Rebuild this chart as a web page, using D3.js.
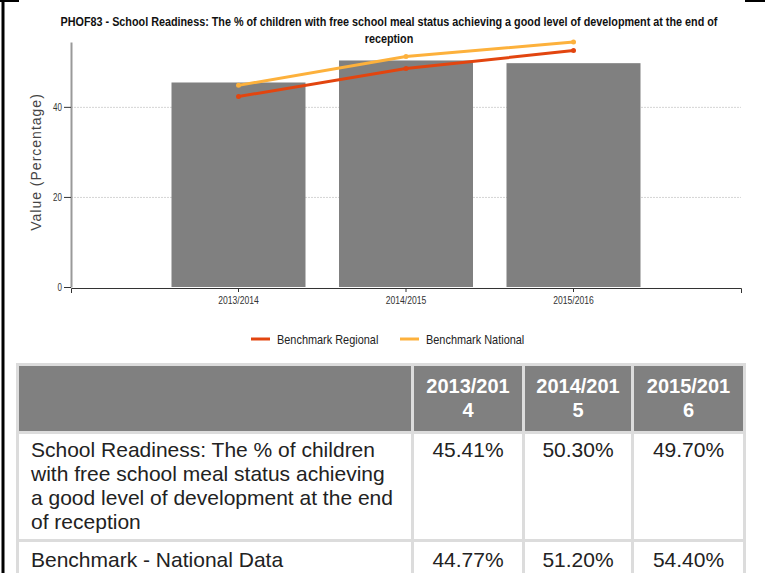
<!DOCTYPE html>
<html>
<head>
<meta charset="utf-8">
<script src="https://cdn.jsdelivr.net/npm/d3@7"></script>
<style>
  body { margin: 0; background: #fff; width: 765px; height: 573px; overflow: hidden; position: relative; }
  svg { position: absolute; left: 0; top: 0; }
  #tbl { position: absolute; left: 16px; top: 363px; }
  table { border-collapse: collapse; table-layout: fixed; width: 727px; font-family: "Liberation Sans", Arial, sans-serif; font-size: 21px; color: #222; }
  td, th { border: 3px solid #dcdcdc; }
  th { background: #808080; color: #fff; font-weight: bold; font-size: 20px; text-align: center; padding: 8px 2px 9px 2px; line-height: 24px; }
  th div { width: 88px; margin: 0 auto; word-break: break-all; }
  td { padding: 4px 12px 5px 12px; line-height: 24px; vertical-align: top; }
  tr.r1 td { padding-top: 6px; padding-bottom: 30px; }
  td.v { text-align: center; padding-left: 2px; padding-right: 2px; }
</style>
</head>
<body>
<script>
// DATA
var years = ['2013/2014', '2014/2015', '2015/2016'];
var indicator = [45.41, 50.30, 49.70];
var regional = [42.3, 48.5, 52.5];
var national = [44.77, 51.20, 54.40];
var yTicks = [0, 20, 40];
var titleLines = ['PHOF83 - School Readiness: The % of children with free school meal status achieving a good level of development at the end of', 'reception'];
var rowLabels = ['School Readiness: The % of children with free school meal status achieving a good level of development at the end of reception', 'Benchmark - National Data'];

// SETTINGS
var settings = {
   left: 71, right: 741, top: 42, bottom: 287,
   colors: { bar: '#808080', regional: '#E2450F', national: '#FDB13C' },
   font: '"Liberation Sans", Arial, sans-serif'
};

// SQUEEZE TEXT SIDEWAYS (NO NARROW FONT INSTALLED)
function narrow(sel, f) {
   sel.each(function () {
      var t = d3.select(this);
      var x = +t.attr('x') || 0, y = +t.attr('y') || 0;
      t.attr('x', 0).attr('y', 0).attr('transform', 'translate(' + x + ',' + y + ') scale(' + f + ',1)');
   });
}

var svg = d3.select('body').append('svg').attr('width', 765).attr('height', 573);

// PAGE FRAME BITS
svg.append('line').attr('x1', 3).attr('x2', 3).attr('y1', 0).attr('y2', 573).attr('stroke', '#000').attr('stroke-width', 3);
svg.append('line').attr('x1', 0).attr('x2', 19).attr('y1', 1).attr('y2', 1).attr('stroke', '#000').attr('stroke-width', 2);
svg.append('line').attr('x1', 745).attr('x2', 765).attr('y1', 1).attr('y2', 1).attr('stroke', '#000').attr('stroke-width', 2);

// TITLE
var title = svg.selectAll('.title').data(titleLines).enter().append('text')
   .attr('x', 389).attr('y', (d, i) => 26 + i * 17)
   .attr('text-anchor', 'middle')
   .style('font-family', settings.font).style('font-weight', 'bold').style('font-size', '13px')
   .attr('fill', '#111')
   .text(d => d);
var titleFactor = 658 / title.node().getComputedTextLength();
narrow(title, titleFactor);

// SCALES
var xScale = d3.scaleBand().domain(years).range([settings.left, settings.right]).paddingInner(0.2).paddingOuter(0.6);
var yScale = d3.scaleLinear().domain([0, d3.max(national.concat(regional, indicator))]).range([settings.bottom, settings.top]);

// GRIDLINES
svg.selectAll('.grid').data(yTicks.slice(1)).enter().append('line')
   .attr('x1', settings.left).attr('x2', settings.right)
   .attr('y1', d => yScale(d) + 0.5).attr('y2', d => yScale(d) + 0.5)
   .attr('stroke', '#d4d4d4').attr('stroke-dasharray', '2,1');

// BARS
svg.selectAll('.bar').data(indicator).enter().append('rect')
   .attr('x', (d, i) => xScale(years[i]))
   .attr('width', xScale.bandwidth())
   .attr('y', d => yScale(d))
   .attr('height', d => settings.bottom - yScale(d))
   .attr('fill', settings.colors.bar);

// Y AXIS
var yAxis = svg.append('g').attr('transform', 'translate(' + settings.left + ',0)')
   .call(d3.axisLeft(yScale).tickValues(yTicks).tickSize(7).tickSizeOuter(0));
yAxis.select('.domain').attr('stroke', '#999').attr('stroke-width', 2);
yAxis.selectAll('.tick line').attr('stroke', '#333');
yAxis.selectAll('.tick text').style('font-family', settings.font).style('font-size', '10px').attr('fill', '#333').attr('x', -9);
narrow(yAxis.selectAll('.tick text'), 0.8);

// X AXIS
var xAxis = svg.append('g').attr('transform', 'translate(0,' + (settings.bottom + 1) + ')')
   .call(d3.axisBottom(xScale).tickSize(4).tickSizeOuter(5));
xAxis.select('.domain').attr('stroke', '#333');
xAxis.selectAll('.tick line').attr('stroke', '#333');
xAxis.selectAll('.tick text').style('font-family', settings.font).style('font-size', '10px').attr('fill', '#333').attr('y', 9);
narrow(xAxis.selectAll('.tick text'), 0.86);

// Y LABEL
svg.append('text')
   .attr('transform', 'translate(41,' + 162 + ') rotate(-90)')
   .attr('text-anchor', 'middle')
   .style('font-family', settings.font).style('font-size', '14px').style('letter-spacing', '1px')
   .attr('fill', '#444')
   .text('Value (Percentage)');

// BENCHMARK LINES
var pathify = d3.line()
   .x((d, i) => xScale(years[i]) + xScale.bandwidth() / 2)
   .y(d => yScale(d));

[['regional', regional], ['national', national]].forEach(function (s) {
   svg.append('path')
      .attr('d', pathify(s[1]))
      .attr('fill', 'none')
      .attr('stroke', settings.colors[s[0]])
      .attr('stroke-width', 3);
   svg.selectAll('.pt-' + s[0]).data(s[1]).enter().append('circle')
      .attr('cx', (d, i) => xScale(years[i]) + xScale.bandwidth() / 2)
      .attr('cy', d => yScale(d))
      .attr('r', 2.5)
      .attr('fill', settings.colors[s[0]]);
});

// LEGEND
var legend = [
   { name: 'Benchmark Regional', color: settings.colors.regional, x: 251 },
   { name: 'Benchmark National', color: settings.colors.national, x: 400 }
];
var lg = svg.selectAll('.lg').data(legend).enter().append('g').attr('transform', d => 'translate(' + d.x + ',339)');
lg.append('line').attr('x1', 0).attr('x2', 19).attr('stroke', d => d.color).attr('stroke-width', 3);
var lgText = lg.append('text').attr('x', 26).attr('y', 5)
   .style('font-family', settings.font).style('font-size', '13px').attr('fill', '#222')
   .text(d => d.name);
narrow(lgText, 0.84);

// TABLE
var table = d3.select('body').append('div').attr('id', 'tbl').append('table');
var cols = table.append('colgroup');
[395, 111, 109, 112].forEach(w => cols.append('col').style('width', w + 'px'));
var head = table.append('tr');
head.append('th');
years.forEach(y => head.append('th').append('div').text(y));
var rowData = [indicator, national];
rowData.forEach(function (vals, r) {
   var tr = table.append('tr').attr('class', 'r' + r);
   tr.append('td').text(rowLabels[r]);
   vals.forEach(v => tr.append('td').attr('class', 'v').text(v.toFixed(2) + '%'));
});
</script>
</body>
</html>
